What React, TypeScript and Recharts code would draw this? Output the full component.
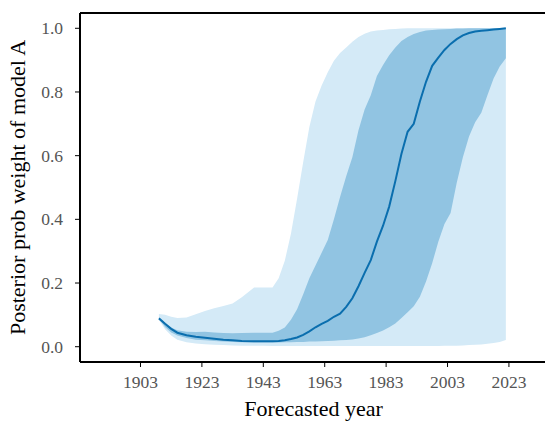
import React from 'react';
import {
  ComposedChart,
  Area,
  Line,
  XAxis,
  YAxis,
  ReferenceLine,
} from 'recharts';

// Forecast years (x) and posterior weight bands
const years = [
  1909, 1911, 1913, 1915, 1918, 1921, 1924, 1927, 1930, 1933, 1936, 1940, 1943, 1946,
  1948, 1950, 1952, 1954, 1956, 1958, 1960, 1962, 1964, 1966, 1968, 1970, 1972, 1974,
  1976, 1978, 1980, 1982, 1984, 1986, 1988, 1990, 1992, 1994, 1996, 1998, 2000, 2002,
  2004, 2006, 2008, 2010, 2012, 2014, 2016, 2018, 2020, 2022,
];

const median = [
  0.089, 0.072, 0.056, 0.044, 0.036, 0.031, 0.028, 0.025, 0.022, 0.020, 0.018, 0.017, 0.017, 0.017,
  0.018, 0.020, 0.024, 0.029, 0.037, 0.048, 0.061, 0.072, 0.081, 0.094, 0.104, 0.125, 0.152, 0.19,
  0.232, 0.272, 0.33, 0.38, 0.44, 0.52, 0.606, 0.675, 0.70, 0.77, 0.832, 0.882, 0.908, 0.932,
  0.951, 0.966, 0.978, 0.985, 0.99, 0.992, 0.994, 0.996, 0.998, 1.0,
];

const innerLow = [
  0.088, 0.062, 0.045, 0.035, 0.027, 0.022, 0.020, 0.018, 0.016, 0.015, 0.014, 0.013, 0.013, 0.013,
  0.013, 0.014, 0.014, 0.015, 0.015, 0.016, 0.016, 0.017, 0.018, 0.019, 0.020, 0.021, 0.023, 0.026,
  0.030, 0.036, 0.043, 0.051, 0.061, 0.073, 0.09, 0.108, 0.127, 0.157, 0.205, 0.262, 0.33, 0.385,
  0.42, 0.515, 0.595, 0.66, 0.705, 0.735, 0.79, 0.842, 0.88, 0.906,
];

const innerHigh = [
  0.09, 0.075, 0.06, 0.052, 0.047, 0.046, 0.047, 0.045, 0.043, 0.042, 0.043, 0.044, 0.044, 0.044,
  0.05, 0.06, 0.085, 0.118, 0.165, 0.215, 0.255, 0.295, 0.335, 0.40, 0.47, 0.535, 0.595, 0.68,
  0.745, 0.79, 0.85, 0.885, 0.915, 0.94, 0.96, 0.973, 0.982, 0.988, 0.993, 0.995, 0.996, 0.997,
  0.998, 0.999, 0.999, 1.0, 1.0, 1.0, 1.0, 1.0, 1.0, 1.0,
];

const outerLow = [
  0.085, 0.055, 0.035, 0.022, 0.014, 0.010, 0.008, 0.006, 0.005, 0.004, 0.003, 0.003, 0.003, 0.002,
  0.002, 0.002, 0.002, 0.002, 0.002, 0.002, 0.002, 0.002, 0.002, 0.002, 0.002, 0.002, 0.002, 0.002,
  0.002, 0.002, 0.002, 0.002, 0.002, 0.002, 0.002, 0.002, 0.002, 0.002, 0.002, 0.002, 0.002, 0.003,
  0.003, 0.003, 0.004, 0.005, 0.006, 0.007, 0.009, 0.012, 0.015, 0.021,
];

const outerHigh = [
  0.103, 0.100, 0.094, 0.090, 0.092, 0.102, 0.112, 0.121, 0.128, 0.136, 0.155, 0.186, 0.186, 0.186,
  0.215, 0.27, 0.355, 0.465, 0.58, 0.69, 0.77, 0.82, 0.862, 0.898, 0.922, 0.94, 0.958, 0.973,
  0.983, 0.99, 0.993, 0.995, 0.997, 0.998, 0.999, 1.0, 1.0, 1.0, 1.0, 1.0, 1.0, 1.0,
  1.0, 1.0, 1.0, 1.0, 1.0, 1.0, 1.0, 1.0, 1.0, 1.0,
];

const xTicks = [1903, 1923, 1943, 1963, 1983, 2003, 2023];
const yTicks = [0, 0.2, 0.4, 0.6, 0.8, 1.0];
const xDomain = [1883.3, 2035.4];
const yDomain = [-0.048, 1.048];

const data = years.map((y, i) => ({
  year: y,
  outer: [outerLow[i], outerHigh[i]],
  inner: [innerLow[i], innerHigh[i]],
  mid: median[i],
}));

const serif = '"Liberation Serif", "DejaVu Serif", serif';

function XTick(props: any) {
  const { x, y, payload } = props;
  return (
    <text x={x} y={y + 17} textAnchor="middle" fontSize={17.5} fill="#555" fontFamily={serif}>
      {payload.value}
    </text>
  );
}

function YTick(props: any) {
  const { x, y, payload } = props;
  return (
    <text x={x - 2} y={y + 6} textAnchor="end" fontSize={17.5} fill="#555" fontFamily={serif}>
      {Number(payload.value).toFixed(1)}
    </text>
  );
}

export default function App() {
  return (
    <div style={{ position: 'absolute', left: 0, top: 0, width: 545, height: 422, overflow: 'hidden', background: '#fff', fontFamily: serif }}>
      <ComposedChart
        width={560}
        height={422}
        data={data}
        margin={{ top: 13, right: 13, bottom: 0, left: 0 }}
      >
        <XAxis
          dataKey="year"
          type="number"
          domain={xDomain}
          ticks={xTicks}
          allowDataOverflow
          height={60}
          tick={<XTick />}
          tickSize={5}
          tickMargin={4}
          axisLine={{ stroke: '#000', strokeWidth: 2 }}
          tickLine={{ stroke: '#000', strokeWidth: 1 }}
          label={{
            value: 'Forecasted year',
            position: 'insideBottom',
            offset: 6,
            style: { fontSize: 22, fill: '#000', fontFamily: serif },
          }}
        />
        <YAxis
          type="number"
          domain={yDomain}
          ticks={yTicks}
          allowDataOverflow
          width={80}
          tick={<YTick />}
          tickSize={5}
          tickMargin={10}
          axisLine={{ stroke: '#000', strokeWidth: 2 }}
          tickLine={{ stroke: '#000', strokeWidth: 1 }}
          label={{
            value: 'Posterior prob weight of model A',
            angle: -90,
            position: 'insideLeft',
            offset: 17,
            style: { textAnchor: 'middle', fontSize: 22, fill: '#000', fontFamily: serif },
          }}
        />
        <Area
          dataKey="outer"
          type="linear"
          stroke="none"
          fill="#d4eaf7"
          fillOpacity={1}
          isAnimationActive={false}
        />
        <Area
          dataKey="inner"
          type="linear"
          stroke="none"
          fill="#91c4e2"
          fillOpacity={1}
          isAnimationActive={false}
        />
        <Line
          dataKey="mid"
          type="linear"
          stroke="#0a6eae"
          strokeWidth={2}
          dot={false}
          isAnimationActive={false}
        />
        <ReferenceLine y={yDomain[1]} stroke="#000" strokeWidth={2} ifOverflow="visible" />
      </ComposedChart>
    </div>
  );
}
